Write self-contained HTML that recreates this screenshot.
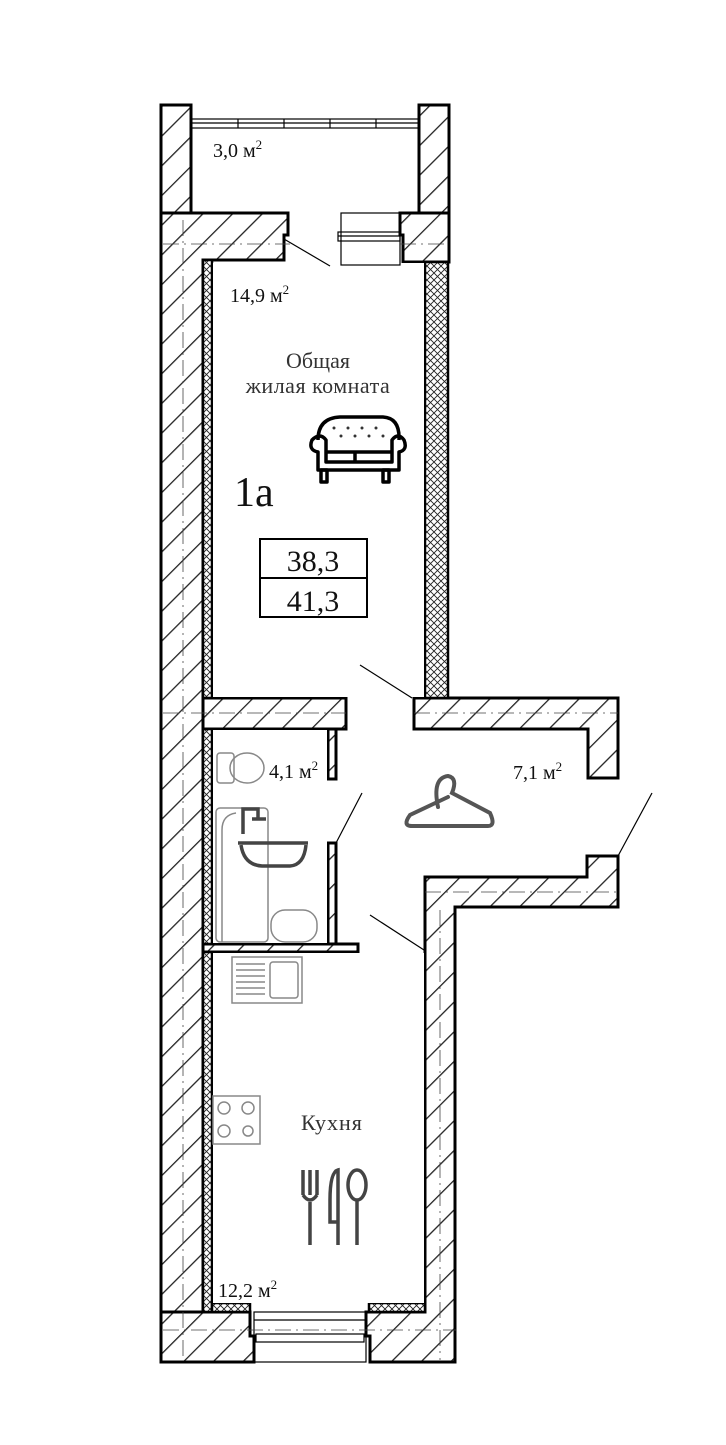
<!DOCTYPE html>
<html><head><meta charset="utf-8"><style>
html,body{margin:0;padding:0;background:#fff;}
svg{display:block;}
text{font-family:"Liberation Serif","DejaVu Serif",serif;}
</style></head><body>
<svg width="726" height="1445" viewBox="0 0 726 1445" xmlns="http://www.w3.org/2000/svg">
<defs>
<pattern id="h" width="21" height="21" patternUnits="userSpaceOnUse" patternTransform="rotate(45)">
<rect width="21" height="21" fill="#fff"/><rect x="0" y="0" width="1.3" height="21" fill="#222"/>
</pattern>
<pattern id="x" width="7" height="7" patternUnits="userSpaceOnUse">
<rect width="7" height="7" fill="#fff"/><path d="M0 0L7 7M7 0L0 7" stroke="#222" stroke-width="0.9"/>
</pattern>
</defs>
<g stroke="#000" stroke-width="3" fill="url(#h)">
<rect x="161" y="105" width="30" height="108"/>
<rect x="419" y="105" width="30" height="108"/>
<path d="M161 213 H288 V235 H284 V260 H203 V1312 H248 V1362 H161 Z"/>
<path d="M400 213 H449 V262 H403 V235 H400 Z"/>
<path d="M203 698 H346 V729 H203 Z"/>
<path d="M414 698 H618 V778 H588 V729 H414 Z"/>
<path d="M425 877 H587 V856 H618 V907 H455 V1362 H370 V1336 H366 V1312 H425 Z"/>
<path d="M203 1312 H250 V1336 H254 V1362 H161 V1312 Z"/>
<rect x="328" y="729" width="8" height="50"/>
<rect x="328" y="843" width="8" height="102"/>
<path d="M203 944 H358 V952 H203 Z"/>
</g>
<g stroke="#000" stroke-width="2.5" fill="url(#x)">
<rect x="203" y="260" width="9" height="438"/>
<rect x="203" y="729" width="9" height="215"/>
<rect x="203" y="952" width="9" height="360"/>
<rect x="425" y="262" width="23" height="436"/>
<rect x="212" y="1303" width="38" height="9"/>
<rect x="369" y="1303" width="56" height="9"/>
</g>
<rect x="213" y="263" width="211" height="434" fill="#fff"/>
<rect x="213" y="730" width="114" height="213" fill="#fff"/>
<rect x="213" y="953" width="211" height="350" fill="#fff"/>
<g stroke="#000" fill="none" stroke-width="1.2">
<rect x="191" y="119" width="228" height="9"/>
<line x1="191" y1="123" x2="419" y2="123"/>
<line x1="238" y1="119" x2="238" y2="128"/><line x1="284" y1="119" x2="284" y2="128"/>
<line x1="330" y1="119" x2="330" y2="128"/><line x1="376" y1="119" x2="376" y2="128"/>
<rect x="341" y="213" width="59" height="52"/>
<rect x="338" y="232" width="62" height="9"/>
<line x1="338" y1="236" x2="400" y2="236"/>
<line x1="284" y1="239" x2="330" y2="266"/>
<line x1="360" y1="665" x2="412" y2="698"/>
<line x1="336" y1="843" x2="362" y2="793"/>
<line x1="370" y1="915" x2="424" y2="950"/>
<line x1="618" y1="856" x2="652" y2="793"/>
<rect x="254" y="1312" width="112" height="50"/>
<rect x="256" y="1334" width="108" height="8"/>
<line x1="254" y1="1320" x2="366" y2="1320"/>
</g>
<g stroke="#444" stroke-width="0.8" stroke-dasharray="16,5,2,5" fill="none">
<line x1="163" y1="244" x2="290" y2="244"/><line x1="400" y1="244" x2="449" y2="244"/>
<line x1="163" y1="713" x2="346" y2="713"/><line x1="414" y1="713" x2="618" y2="713"/>
<line x1="425" y1="892" x2="618" y2="892"/>
<line x1="163" y1="1330" x2="456" y2="1330"/>
<line x1="183" y1="220" x2="183" y2="1360"/>
<line x1="440" y1="910" x2="440" y2="1360"/>
</g>
<g fill="#111">
<text x="213" y="157" font-size="20">3,0 м<tspan font-size="13" dy="-8">2</tspan></text>
<text x="230" y="302" font-size="20">14,9 м<tspan font-size="13" dy="-8">2</tspan></text>
<text x="318" y="368" font-size="22" text-anchor="middle" fill="#333">Общая</text>
<text x="318" y="393" font-size="22" text-anchor="middle" fill="#333" letter-spacing="0.5">жилая комната</text>
<text x="234" y="506" font-size="42">1а</text>
<rect x="260" y="539" width="107" height="78" fill="none" stroke="#000" stroke-width="2"/>
<line x1="260" y1="578" x2="367" y2="578" stroke="#000" stroke-width="2"/>
<text x="313" y="571" font-size="30" text-anchor="middle">38,3</text>
<text x="313" y="611" font-size="30" text-anchor="middle">41,3</text>
<text x="269" y="778" font-size="20">4,1 м<tspan font-size="13" dy="-8">2</tspan></text>
<text x="513" y="779" font-size="20">7,1 м<tspan font-size="13" dy="-8">2</tspan></text>
<text x="301" y="1130" font-size="22" fill="#333" letter-spacing="1">Кухня</text>
<text x="218" y="1297" font-size="20">12,2 м<tspan font-size="13" dy="-8">2</tspan></text>
</g>
<g stroke="#000" stroke-width="3.5" fill="none" stroke-linejoin="round">
<path d="M318 440 Q318 418 340 417 H383 Q400 418 399 440"/>
<path d="M312 440 Q308 450 318 452 V470 H399 V452 Q408 450 404 440 Q398 432 392 440 V462 H326 V440 Q320 432 312 440Z"/>
<line x1="326" y1="452" x2="392" y2="452"/><line x1="355" y1="452" x2="355" y2="462"/>
<rect x="321" y="470" width="6" height="12"/><rect x="383" y="470" width="6" height="12"/>
</g>
<g fill="#333"><circle cx="334" cy="428" r="1.5"/><circle cx="348" cy="428" r="1.5"/><circle cx="362" cy="428" r="1.5"/><circle cx="376" cy="428" r="1.5"/>
<circle cx="341" cy="436" r="1.5"/><circle cx="355" cy="436" r="1.5"/><circle cx="369" cy="436" r="1.5"/><circle cx="383" cy="436" r="1.5"/></g>
<path d="M438 807 Q432 778 448 776 Q458 778 452 793 L490 813 Q496 826 488 826 H412 Q402 826 410 815 L448 797" stroke="#555" stroke-width="4" fill="none" stroke-linecap="round"/>
<g stroke="#888" stroke-width="1.5" fill="none">
<rect x="217" y="753" width="17" height="30" rx="3"/>
<ellipse cx="247" cy="768" rx="17" ry="15"/>
<rect x="216" y="808" width="52" height="134" rx="4"/>
<path d="M222 942 V830 Q222 815 236 813"/>
<rect x="271" y="910" width="46" height="32" rx="14"/>
<rect x="232" y="957" width="70" height="46"/>
<rect x="270" y="962" width="28" height="36" rx="3"/>
<path d="M236 964H265M236 970H265M236 976H265M236 982H265M236 988H265M236 994H265"/>
<rect x="213" y="1096" width="47" height="48"/>
<circle cx="224" cy="1108" r="6"/><circle cx="248" cy="1108" r="6"/>
<circle cx="224" cy="1131" r="6"/><circle cx="248" cy="1131" r="5"/>
</g>
<g stroke="#444" stroke-width="3.5" fill="none">
<path d="M243 834 V809 H258 V818"/><line x1="252" y1="819" x2="266" y2="819"/>
<line x1="238" y1="843" x2="308" y2="843"/>
<path d="M241 845 Q244 865 262 866 H290 Q304 865 306 845"/>
<line x1="303" y1="1170" x2="303" y2="1195"/><line x1="310" y1="1170" x2="310" y2="1195"/><line x1="317" y1="1170" x2="317" y2="1195"/>
<path d="M303 1195 Q310 1205 317 1195"/><line x1="310" y1="1202" x2="310" y2="1245"/>
<path d="M338 1245 V1170 Q330 1172 330 1200 V1222 H338"/>
<ellipse cx="357" cy="1185" rx="9" ry="15"/><line x1="357" y1="1200" x2="357" y2="1245"/>
</g>
</svg>
</body></html>
